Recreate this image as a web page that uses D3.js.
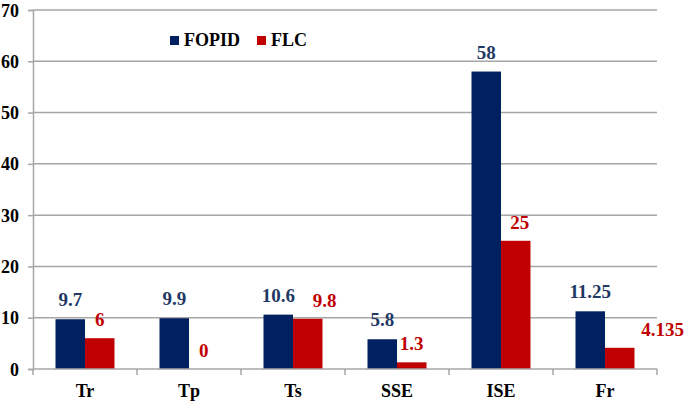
<!DOCTYPE html>
<html><head><meta charset="utf-8">
<script src="https://cdn.jsdelivr.net/npm/d3@7"></script>
<style>html,body{margin:0;padding:0;background:#fff}svg{display:block}</style>
</head><body>
<script>
const categories = ["Tr","Tp","Ts","SSE","ISE","Fr"];
const seriesNames = ["FOPID","FLC"];
const fopid = [9.7, 9.9, 10.6, 5.8, 58, 11.25];
const flc = [6, 0, 9.8, 1.3, 25, 4.135];
const fopidLabels = ["9.7","9.9","10.6","5.8","58","11.25"];
const flcLabels = ["6","0","9.8","1.3","25","4.135"];
const yTicks = [0,10,20,30,40,50,60,70];

// layout-only label nudges (px) for the FLC labels
const flcLabelDx = [0,0,17,0,4,43];

(function(){
const W=685,H=402;
const colors = {FOPID:"#002060", FLC:"#c00000"};
const labelColors = {FOPID:"#1f3864", FLC:"#c00000"};
const font = "'Liberation Serif','Times New Roman',serif";

const svg = d3.select("body").append("svg").attr("width",W).attr("height",H);
const mL=33,mR=657,mT=10,mB=369;
const y = d3.scaleLinear().domain([0,70]).range([mB,mT]);
const x0 = d3.scaleBand().domain(categories).range([mL,mR]).padding(0);
const x1 = d3.scaleBand().domain(seriesNames).range([0,x0.bandwidth()]).paddingInner(0).paddingOuter(0.763);

// gridlines
svg.append("g").selectAll("line").data(yTicks.filter(d=>d>0)).join("line")
  .attr("x1",mL).attr("x2",mR).attr("y1",d=>y(d)).attr("y2",d=>y(d))
  .attr("stroke","#a6a6a6").attr("stroke-width",1.5);

// y axis
const yAxis = svg.append("g").attr("transform",`translate(${mL},0)`)
  .call(d3.axisLeft(y).tickValues(yTicks).tickSize(5).tickPadding(9).tickFormat(d3.format("d")));
yAxis.select(".domain").attr("stroke","#a6a6a6").attr("stroke-width",1.5);
yAxis.selectAll(".tick line").attr("stroke","#a6a6a6").attr("stroke-width",1.5);
yAxis.selectAll("text").attr("font-family",font).attr("font-weight","bold").attr("font-size",18).attr("fill","#000").attr("dy","0.34em");

// bars
const data = categories.map((c,i)=>({cat:c,i,vals:[{s:"FOPID",v:fopid[i],l:fopidLabels[i]},{s:"FLC",v:flc[i],l:flcLabels[i]}]}));
const g = svg.append("g").selectAll("g").data(data).join("g")
  .attr("transform",d=>`translate(${x0(d.cat)},0)`);
g.selectAll("rect").data(d=>d.vals).join("rect")
  .attr("x",d=>x1(d.s)).attr("width",x1.bandwidth())
  .attr("y",d=>y(d.v)).attr("height",d=>y(0)-y(d.v))
  .attr("fill",d=>colors[d.s]);

// x axis
const xAxis = svg.append("g").attr("transform",`translate(0,${mB})`)
  .call(d3.axisBottom(x0).tickSize(0).tickPadding(15));
xAxis.select(".domain").attr("stroke","#a6a6a6").attr("stroke-width",1.5).attr("d",`M${mL},0H${mR}`);
xAxis.selectAll("text").attr("font-family",font).attr("font-weight","bold").attr("font-size",18).attr("fill","#000");
const bounds = d3.range(categories.length+1).map(i=>mL+i*x0.step());
svg.append("g").selectAll("line").data(bounds).join("line")
  .attr("x1",d=>d).attr("x2",d=>d).attr("y1",mB).attr("y2",mB+6)
  .attr("stroke","#a6a6a6").attr("stroke-width",1.5);

// value labels
g.selectAll("text.val").data(d=>d.vals.map(v=>({...v,i:d.i}))).join("text")
  .attr("class","val")
  .attr("x",d=>x1(d.s)+x1.bandwidth()/2+(d.s==="FLC"?flcLabelDx[d.i]:0))
  .attr("y",d=>y(d.v)-(d.s==="FLC"?12:13))
  .attr("text-anchor","middle")
  .attr("font-family",font).attr("font-weight","bold").attr("font-size",19)
  .attr("fill",d=>labelColors[d.s])
  .text(d=>d.l);

// legend
const leg = svg.append("g");
const legX=[170,257];
seriesNames.forEach((s,i)=>{
  leg.append("rect").attr("x",legX[i]).attr("y",36).attr("width",9).attr("height",9).attr("fill",colors[s]);
  leg.append("text").attr("x",legX[i]+14).attr("y",46).attr("font-family",font).attr("font-weight","bold")
    .attr("font-size",18).attr("fill","#000").text(s);
});
})();
</script>
</body></html>
